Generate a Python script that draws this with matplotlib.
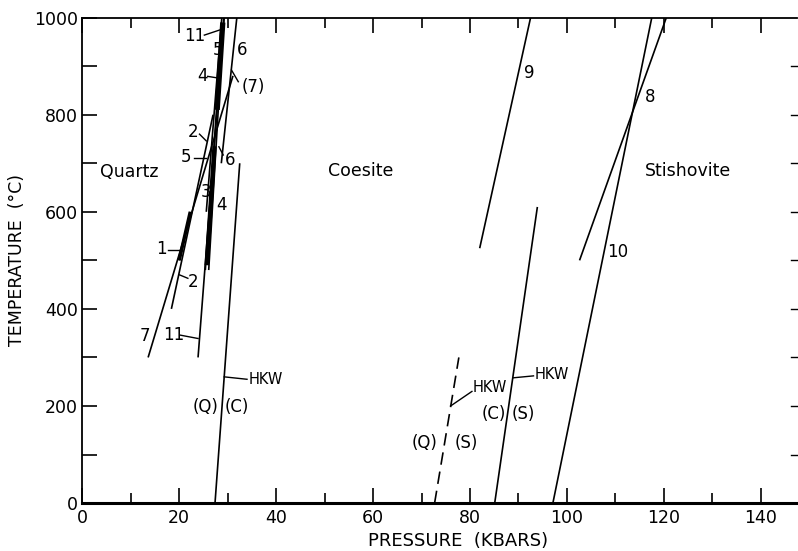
import numpy as np
import matplotlib
matplotlib.use('Agg')
import matplotlib.pyplot as plt
from matplotlib.ticker import MultipleLocator

plt.rcParams['font.family'] = 'DejaVu Sans'
plt.rcParams['lines.scale_dashes'] = False

# phase boundaries, (pressure kbar, temperature C) at both ends
hkw_qc_p = [27.4, 32.5]
hkw_qc_t = [0, 700]
hkw_qs_p = [72.7, 77.7]
hkw_qs_t = [0, 300]
hkw_cs_p = [85.1, 93.9]
hkw_cs_t = [0, 610]

line1_p = [20.0, 22.3]
line1_t = [500, 600]
line2_p = [18.4, 27.0]
line2_t = [400, 800]
line3_p = [25.4, 28.2]
line3_t = [480, 880]
line4_p = [26.1, 29.2]
line4_t = [480, 1000]
line5_p = [25.6, 28.8]
line5_t = [600, 1000]
line6_p = [28.7, 31.9]
line6_t = [700, 1000]
line7_p = [13.6, 31.1]
line7_t = [300, 880]
line8_p = [102.6, 120.5]
line8_t = [500, 1000]
line9_p = [82.0, 92.5]
line9_t = [525, 1000]
line10_p = [97.1, 117.5]
line10_t = [0, 1000]
line11_p = [23.9, 29.3]
line11_t = [300, 1000]

# thick black parts of the 3/4 bundle
thick_a_p = [25.7, 27.3]
thick_a_t = [490, 735]
thick_b_p = [27.85, 29.0]
thick_b_t = [810, 990]

phase_names = ['Quartz', 'Coesite', 'Stishovite']
phase_p = [9.8, 57.4, 124.9]
phase_t = [681, 684, 684]

# number labels: text, text position, leader start, leader end
num_txt = ['1', '2', '2', '5', '4', '5', '11', '11', '(7)', '6',
           '6', '3', '4', '7', '9', '8', '10']
num_p = [16.4, 22.8, 22.8, 21.5, 24.8, 28.0, 23.2, 18.8, 35.2, 32.9,
         30.5, 25.6, 28.8, 13.0, 92.3, 117.2, 110.5]
num_t = [524, 455, 765, 713, 880, 933, 962, 346, 857, 933,
         706, 641, 614, 345, 885, 836, 517]
lead_p0 = [17.6, 20.1, 24.2, 23.0, 25.9, 28.4, 25.2, 20.2, 30.8, None,
           28.2, None, None, None, None, None, None]
lead_t0 = [521, 470, 760, 710, 879, 912, 964, 346, 892, None,
           734, None, None, None, None, None, None]
lead_p1 = [20.5, 21.8, 25.6, 25.6, 28.4, 28.4, 29.1, 23.9, 32.2, None,
           29.1, None, None, None, None, None, None]
lead_t1 = [521, 463, 746, 710, 875, 880, 977, 339, 868, None,
           717, None, None, None, None, None, None]

# HKW labels
hkw_p = [34.3, 80.6, 93.3]
hkw_t = [255, 238, 265]
hkw_lead_p0 = [29.3, 76.0, 88.9]
hkw_lead_t0 = [260, 200, 258]
hkw_lead_p1 = [34.0, 80.4, 93.1]
hkw_lead_t1 = [255, 230, 262]

side_txt = ['(Q)', '(C)', '(Q)', '(S)', '(C)', '(S)']
side_p = [25.5, 31.8, 70.7, 79.3, 84.9, 91.1]
side_t = [197, 197, 124, 124, 183, 183]

fig = plt.figure(figsize=(7.98, 5.51), dpi=100)
ax = fig.add_axes([0.103, 0.087, 0.896, 0.881])

lc = 'black'
lw = 1.2
for p, t in [(hkw_qc_p, hkw_qc_t), (hkw_cs_p, hkw_cs_t), (line1_p, line1_t),
             (line2_p, line2_t), (line3_p, line3_t), (line4_p, line4_t),
             (line5_p, line5_t), (line6_p, line6_t), (line7_p, line7_t),
             (line8_p, line8_t), (line9_p, line9_t), (line10_p, line10_t),
             (line11_p, line11_t)]:
    ax.plot(p, t, color=lc, lw=lw, solid_capstyle='butt')
ax.plot(hkw_qs_p, hkw_qs_t, color=lc, lw=lw, dashes=(9, 5))
ax.plot(line1_p, line1_t, color=lc, lw=2.5, solid_capstyle='butt')
ax.plot(thick_a_p, thick_a_t, color=lc, lw=3.2, solid_capstyle='butt')
ax.plot(thick_b_p, thick_b_t, color=lc, lw=3.8, solid_capstyle='butt')

for name, p, t in zip(phase_names, phase_p, phase_t):
    ax.text(p, t, name, fontsize=12.5, ha='center', va='center')

for i in range(len(num_txt)):
    ax.text(num_p[i], num_t[i], num_txt[i], fontsize=12, ha='center', va='center')
    if lead_p0[i] is not None:
        ax.plot([lead_p0[i], lead_p1[i]], [lead_t0[i], lead_t1[i]], color=lc, lw=1.0)

for i in range(3):
    ax.text(hkw_p[i], hkw_t[i], 'HKW', fontsize=10.5, ha='left', va='center')
    ax.plot([hkw_lead_p0[i], hkw_lead_p1[i]], [hkw_lead_t0[i], hkw_lead_t1[i]],
            color=lc, lw=1.0)

for txt, p, t in zip(side_txt, side_p, side_t):
    ax.text(p, t, txt, fontsize=12, ha='center', va='center')

ax.set_xlim(0, 147.5)
ax.set_ylim(0, 1000)
ax.xaxis.set_major_locator(MultipleLocator(20))
ax.xaxis.set_minor_locator(MultipleLocator(10))
ax.yaxis.set_major_locator(MultipleLocator(200))
ax.yaxis.set_minor_locator(MultipleLocator(100))
ax.tick_params(axis='x', which='major', direction='in', length=11, width=1.2,
               top=True, labelsize=12.5, pad=4)
ax.tick_params(axis='x', which='minor', direction='in', length=7, width=1.2, top=True)
ax.tick_params(axis='y', which='major', direction='in', length=11, width=1.2,
               labelsize=12.5, pad=3)
ax.tick_params(axis='y', which='minor', direction='in', length=11, width=1.2)

ax.spines['right'].set_visible(False)
ax.spines['bottom'].set_linewidth(2.2)
ax.spines['left'].set_linewidth(1.3)
ax.spines['top'].set_linewidth(1.3)

# short ticks along the right edge
for t in np.arange(100, 1000, 100):
    ax.plot([146.2, 147.5], [t, t], color='black', lw=1.0, clip_on=False)

ax.set_xlabel('PRESSURE  (KBARS)', fontsize=13, va='bottom')
ax.xaxis.set_label_coords(0.525, -0.097)
ax.set_ylabel('TEMPERATURE  (°C)', fontsize=12.5, labelpad=6)

fig.savefig('out.png', dpi=100)
